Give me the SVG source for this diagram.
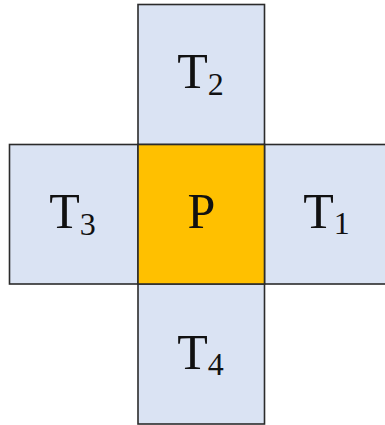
<svg xmlns="http://www.w3.org/2000/svg" width="385" height="425" viewBox="0 0 385 425">
  <style>
    .cell { fill: #dae3f3; stroke: #2b2b2b; stroke-width: 1.6; }
    .center { fill: #ffc000; stroke: #2b2b2b; stroke-width: 1.6; }
    .lbl { font-family: 'Liberation Serif', 'DejaVu Serif', serif; font-size: 50px; fill: #111; text-anchor: middle; }
    .sub { font-size: 32px; }
  </style>
  <rect width="385" height="425" fill="#ffffff"/>
  <g id="T2">
    <rect class="cell" x="138" y="4.5" width="126.5" height="140"/>
    <text class="lbl" x="200.5" y="88">T<tspan class="sub" dy="7">2</tspan></text>
  </g>
  <g id="T3">
    <rect class="cell" x="9.5" y="144.5" width="128.5" height="139.5"/>
    <text class="lbl" x="72.5" y="228">T<tspan class="sub" dy="7">3</tspan></text>
  </g>
  <g id="T1">
    <rect class="cell" x="264.5" y="144.5" width="125" height="139.5"/>
    <text class="lbl" x="326.5" y="228">T<tspan class="sub" dy="6">1</tspan></text>
  </g>
  <g id="T4">
    <rect class="cell" x="138" y="284" width="126.5" height="140"/>
    <text class="lbl" x="200.5" y="369">T<tspan class="sub" dy="6">4</tspan></text>
  </g>
  <g id="P">
    <rect class="center" x="138" y="144.5" width="126.5" height="139.5"/>
    <text class="lbl" x="201.5" y="227.5">P</text>
  </g>
  <g id="connectors"/>
</svg>
